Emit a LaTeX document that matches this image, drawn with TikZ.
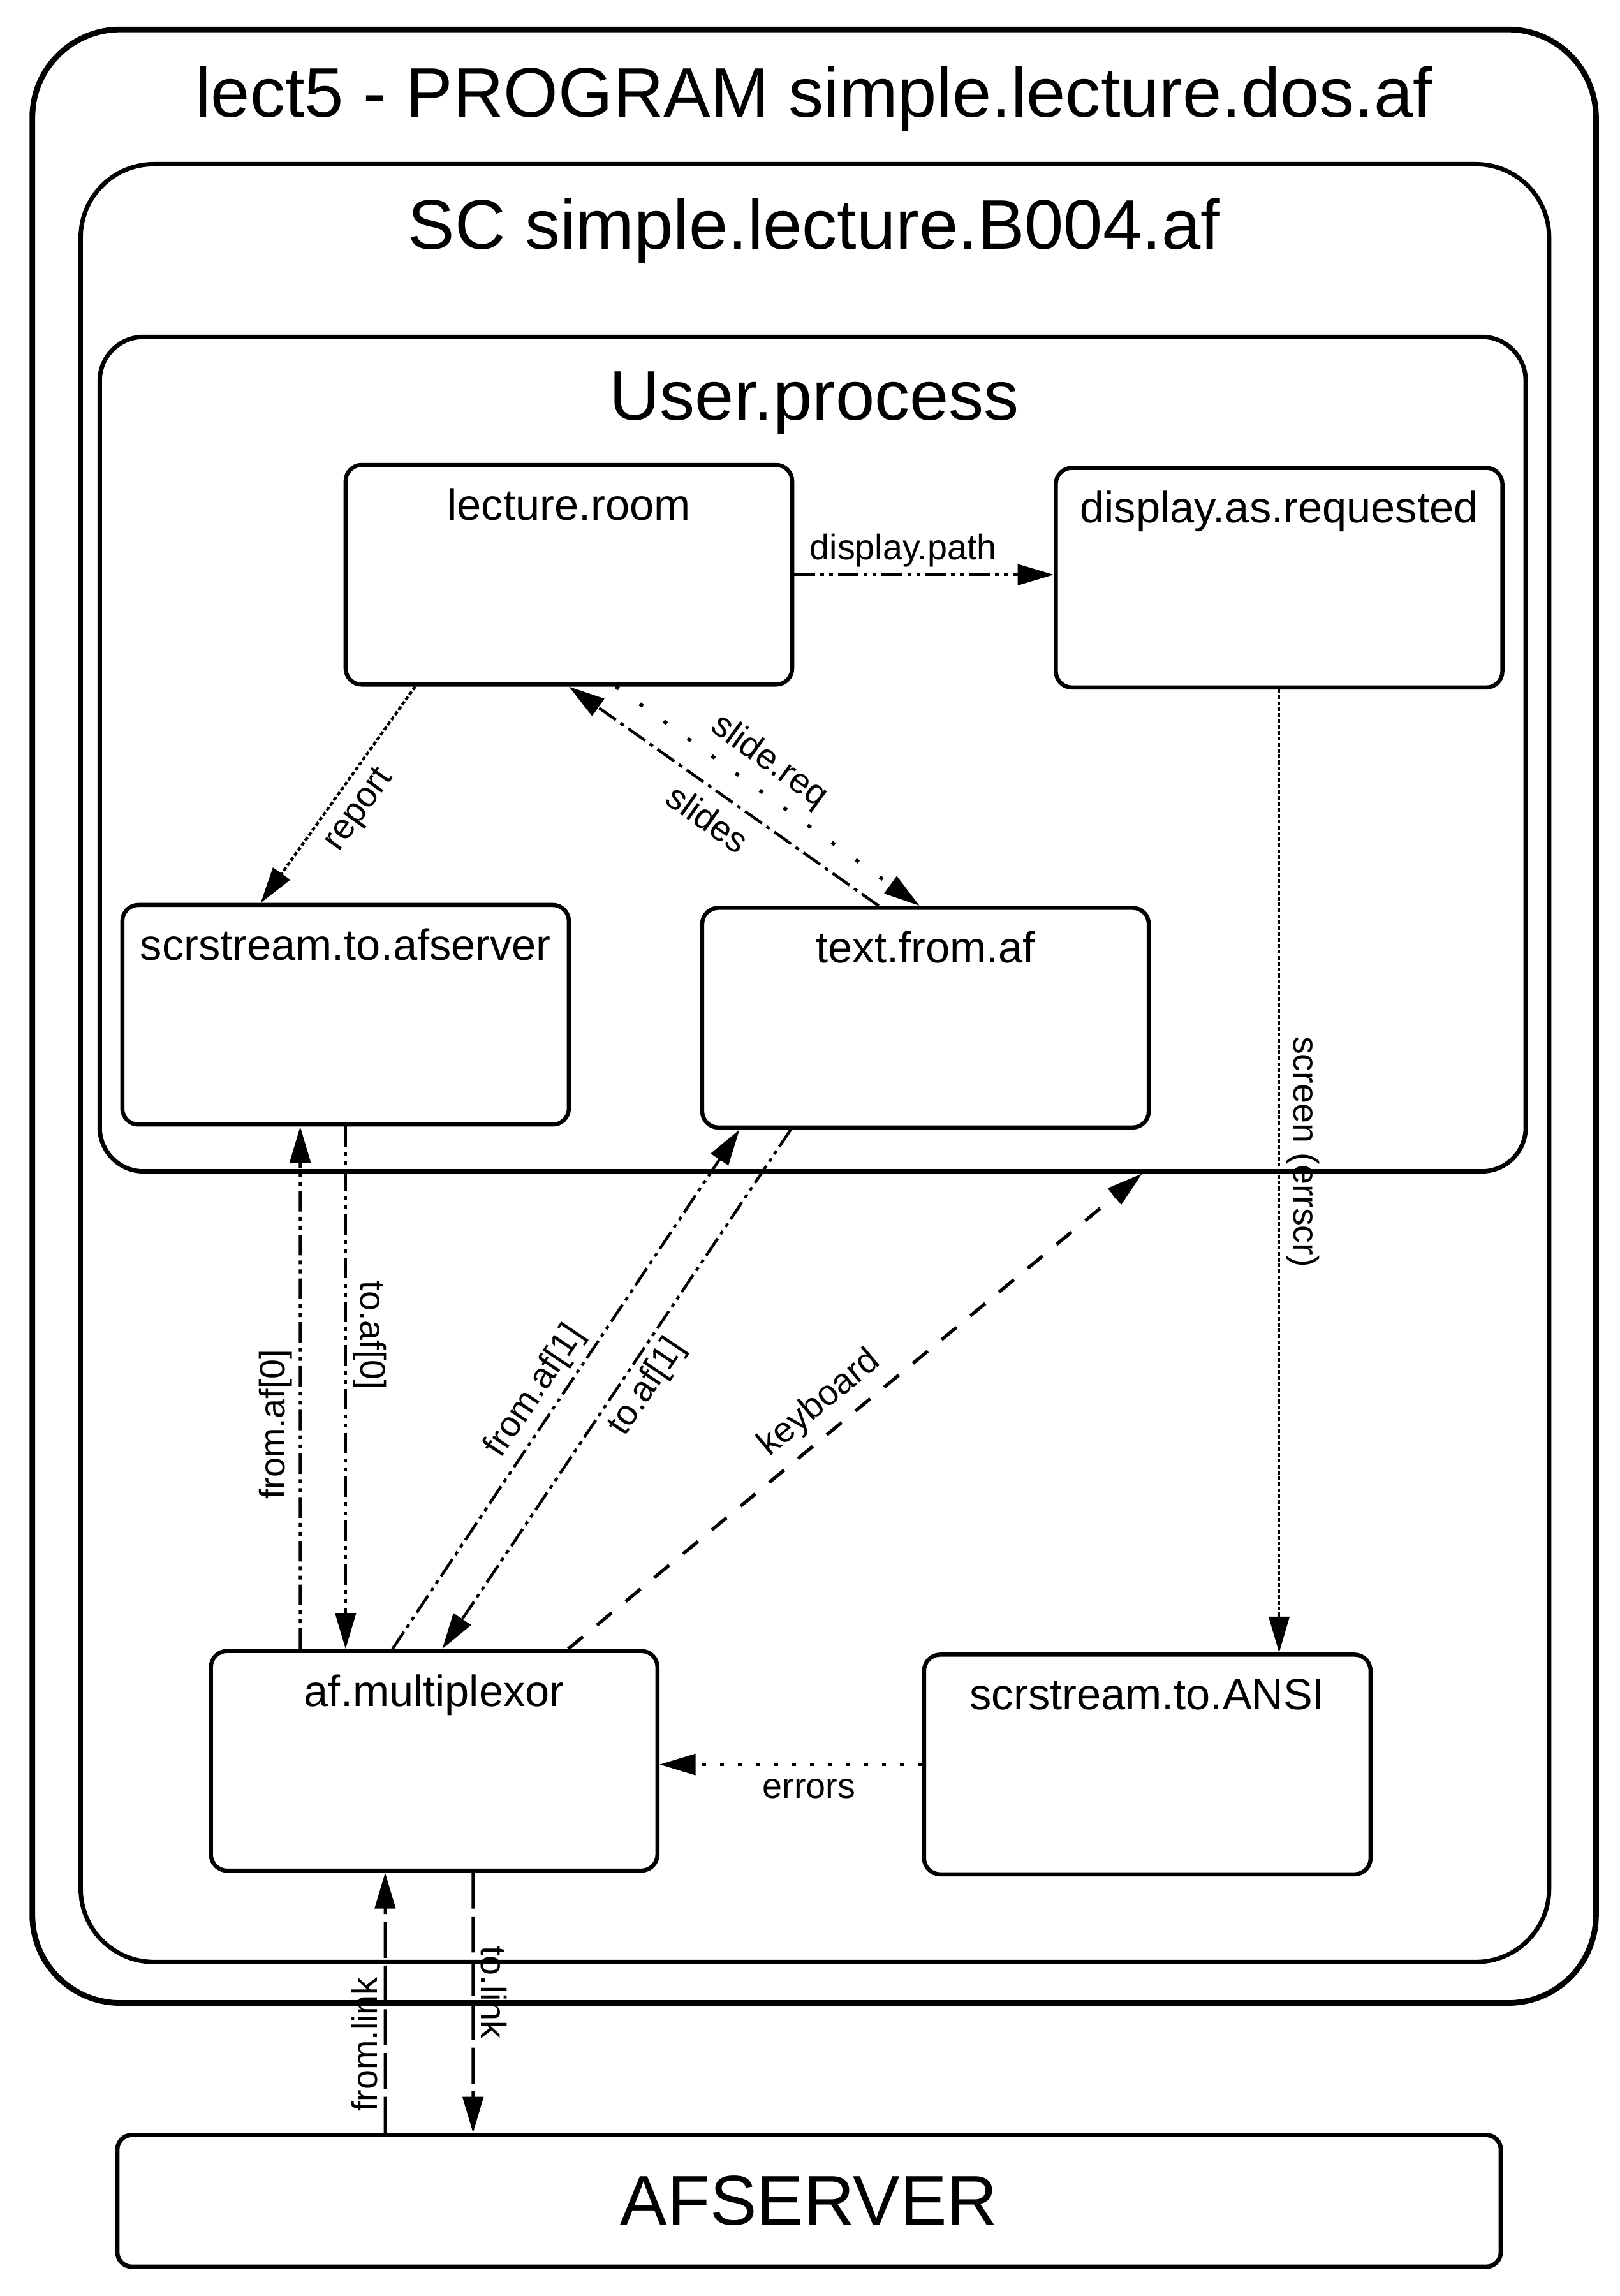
\documentclass[tikz,border=0pt]{standalone}
\usepackage{fontspec}
\setmainfont{Liberation Sans}
\usetikzlibrary{arrows.meta}

\begin{document}
\begin{tikzpicture}[x=0.02cm,y=-0.02cm,
    outline/.style={draw,line width=1.7pt,inner sep=0pt},
    proc/.style={draw,line width=1.6pt,rounded corners=0.22cm,minimum width=6.1cm,minimum height=3cm,inner sep=0pt,
      label={[pname,anchor=base,yshift=-0.78cm]north:#1}},
    pname/.style={font=\fontsize{17}{20}\selectfont,inner sep=0pt},
    big/.style={font=\fontsize{27.3}{32}\selectfont,inner sep=0pt},
    lbl/.style={font=\fontsize{13.8}{16}\selectfont,inner sep=2.5pt},
    conn/.style={line width=1.1pt,-{Triangle[length=14pt,width=8pt]}},
    ddot/.style={conn,dash pattern=on 8pt off 2pt on 1.5pt off 2pt on 1.5pt off 2pt},
    dchain/.style={conn,dash pattern=on 8pt off 2.2pt on 1.5pt off 2.2pt},
    dots/.style={conn,dash pattern=on 1.5pt off #1},
    ldash/.style={conn,line width=1.3pt,dash pattern=on 7.5pt off 7pt},
    lnk/.style={conn,dash pattern=on 14pt off 3pt}]
  \useasboundingbox[fill=white] (0,0) rectangle (1106,1568);
  %\draw[red] (0,0) grid[step=100] (1106,1568);
  \node[outline,line width=2.2pt,rounded corners=1.2cm,minimum width=21.36cm,minimum height=26.96cm] (prog) at (556,694) {};
  \node[outline,rounded corners=1cm,minimum width=20.06cm,minimum height=24.56cm] (sc) at (556.5,726) {};
  \node[outline,rounded corners=0.6cm,minimum width=19.48cm,minimum height=11.4cm] (user) at (555,515) {};
  \node[outline,big,rounded corners=0.2cm,minimum width=18.9cm,minimum height=1.8cm] (afserver) at (552.5,1503) {AFSERVER};
  \node[big,anchor=base] (progtitle) at (556,80) {lect5 - PROGRAM simple.lecture.dos.af};
  \node[big,anchor=base] (sctitle) at (556,170) {SC simple.lecture.B004.af};
  \node[big,anchor=base] (usertitle) at (556,287) {User.process};

  \node[proc=lecture.room] (room) at (388.5,392.5) {};
  \node[proc=display.as.requested] (disp) at (873.5,394.5) {};
  \node[proc=scrstream.to.afserver] (scrafs) at (236,693) {};
  \node[proc=text.from.af] (textaf) at (632,695) {};
  \node[proc=af.multiplexor] (mux) at (296.5,1202.5) {};
  \node[proc=scrstream.to.ANSI] (ansi) at (783.5,1205) {};

  \draw[ddot] (room.east) -- node[lbl,above,pos=0.42] (lpath) {display.path} (room.east -| disp.west);
  \draw[dots=0.9pt,line width=1.1pt] ([xshift=-2.1cm]room.south) -- node[lbl,sloped,below,inner sep=4pt] (lreport) {report} ([xshift=-1.16cm]scrafs.north);
  \draw[dchain] ([xshift=-0.64cm]textaf.north) -- node[lbl,sloped,below,inner sep=5pt] (lslides) {slides} (room.south);
  \draw[dots=10pt,line width=1.4pt] ([xshift=0.64cm]room.south) -- node[lbl,sloped,above,pos=0.45,inner sep=4pt] (lreq) {slide.req} ([xshift=-0.08cm]textaf.north);
  \draw[dots=0.8pt,line width=0.9pt] (disp.south) -- node[lbl,pos=0.48,rotate=-90,anchor=south] (lscreen) {screen (errscr)} (disp.south |- ansi.north);
  \draw[dots=5.5pt,line width=1.4pt] (ansi.west) -- node[lbl,below,pos=0.43,inner sep=5pt] (lerr) {errors} (ansi.west -| mux.east);
  \draw[ldash] ([xshift=1.83cm]mux.north) -- node[lbl,sloped,above,pos=0.47,inner sep=4pt] (lkey) {keyboard} ([xshift=4.5cm]user.south);
  \draw[ddot] ([xshift=-1.83cm]mux.north) -- node[lbl,pos=0.43,rotate=90,anchor=south] (lfrom0) {from.af[0]} ([xshift=-0.62cm]scrafs.south);
  \draw[ddot] (scrafs.south) -- node[lbl,pos=0.4,rotate=-90,anchor=south] (lto0) {to.af[0]} (scrafs.south |- mux.north);
  \draw[ddot] ([xshift=-0.57cm]mux.north) -- node[lbl,sloped,above,pos=0.47] (lfrom1) {from.af[1]} ([xshift=-2.54cm]textaf.south);
  \draw[ddot] ([xshift=-1.84cm]textaf.south) -- node[lbl,sloped,below,pos=0.47] (lto1) {to.af[1]} ([xshift=0.11cm]mux.north);
  \draw[lnk] ([xshift=-5.79cm]afserver.north) -- node[lbl,pos=0.34,rotate=90,anchor=south] (lfromlink) {from.link} ([xshift=-0.67cm]mux.south);
  \draw[lnk] ([xshift=0.53cm]mux.south) -- node[lbl,pos=0.46,rotate=-90,anchor=south] (ltolink) {to.link} ([xshift=-4.59cm]afserver.north);
\end{tikzpicture}
\end{document}
